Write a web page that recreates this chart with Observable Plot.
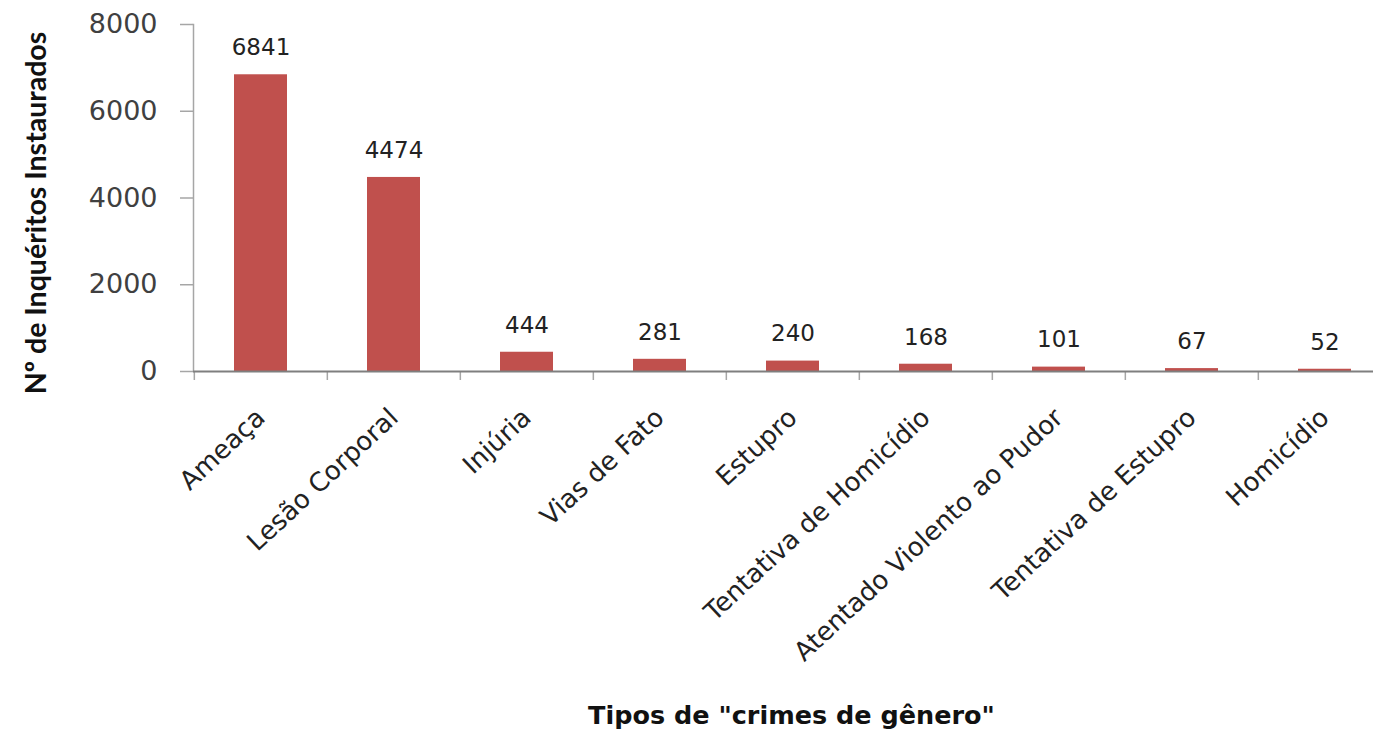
<!DOCTYPE html>
<html>
<head>
<meta charset="utf-8">
<script src="https://cdn.jsdelivr.net/npm/d3@7"></script>
<script src="https://cdn.jsdelivr.net/npm/@observablehq/plot@0.6"></script>
<style>
  html, body { margin: 0; padding: 0; background: white; }
</style>
</head>
<body>
<div id="chart"></div>
<script>
const categories = ["Ameaça", "Lesão Corporal", "Injúria", "Vias de Fato", "Estupro", "Tentativa de Homicídio", "Atentado Violento ao Pudor", "Tentativa de Estupro", "Homicídio"];
const values = [6841, 4474, 444, 281, 240, 168, 101, 67, 52];
const yTicks = [0, 2000, 4000, 6000, 8000];
const yTitle = "Nº de Inquéritos Instaurados";
const xTitle = 'Tipos de "crimes de gênero"';

const data = categories.map((c, i) => ({category: c, value: values[i]}));

const xRange = [193, 1393];
const step = (xRange[1] - xRange[0]) / categories.length;

const chart = Plot.plot({
  width: 1373,
  height: 737,
  marginTop: 24,
  marginBottom: 366,
  marginLeft: 193,
  marginRight: 0,
  style: {fontFamily: "DejaVu Sans", background: "white", overflow: "hidden"},
  x: {domain: categories, range: xRange, paddingInner: 0.6, paddingOuter: 0.3},
  y: {domain: [0, 8000]},
  marks: [
    Plot.barY(data, {x: "category", y: "value", fill: "#C0504D"}),
    Plot.frame({anchor: "left", stroke: "#a6a6a6", strokeWidth: 1.5}),
    Plot.ruleX(categories, {x: d => d, y1: () => 0, y2: () => 0, insetBottom: -9, dx: -step / 2, stroke: "#a6a6a6", strokeWidth: 1.5}),
    Plot.axisY({ticks: yTicks, tickFormat: d => String(d), tickSize: 13, tickPadding: 23, fontSize: 27, label: null, stroke: "#a6a6a6", strokeWidth: 1.5, fill: "#404040"}),
    Plot.ruleY([0], {stroke: "#7f7f7f", strokeWidth: 2}),
    Plot.axisX({tickSize: 0, tickRotate: -43, tickPadding: 42, fontSize: 26, label: null, fill: "#222"}),
    Plot.text(data, {x: "category", y: "value", text: d => String(d.value), dy: -27, fontSize: 23, fill: "#222"}),
    Plot.text([yTitle], {frameAnchor: "left", textAnchor: "middle", rotate: -90, dx: -157, dy: 15, fontSize: 28.5, fontWeight: "bold", fontFamily: "Lato", fill: "#111"}),
    Plot.text([xTitle], {frameAnchor: "bottom", dx: 8, dy: 352, fontSize: 25.5, fontWeight: "bold", fill: "#111"})
  ]
});
document.getElementById("chart").appendChild(chart);
</script>
</body>
</html>
